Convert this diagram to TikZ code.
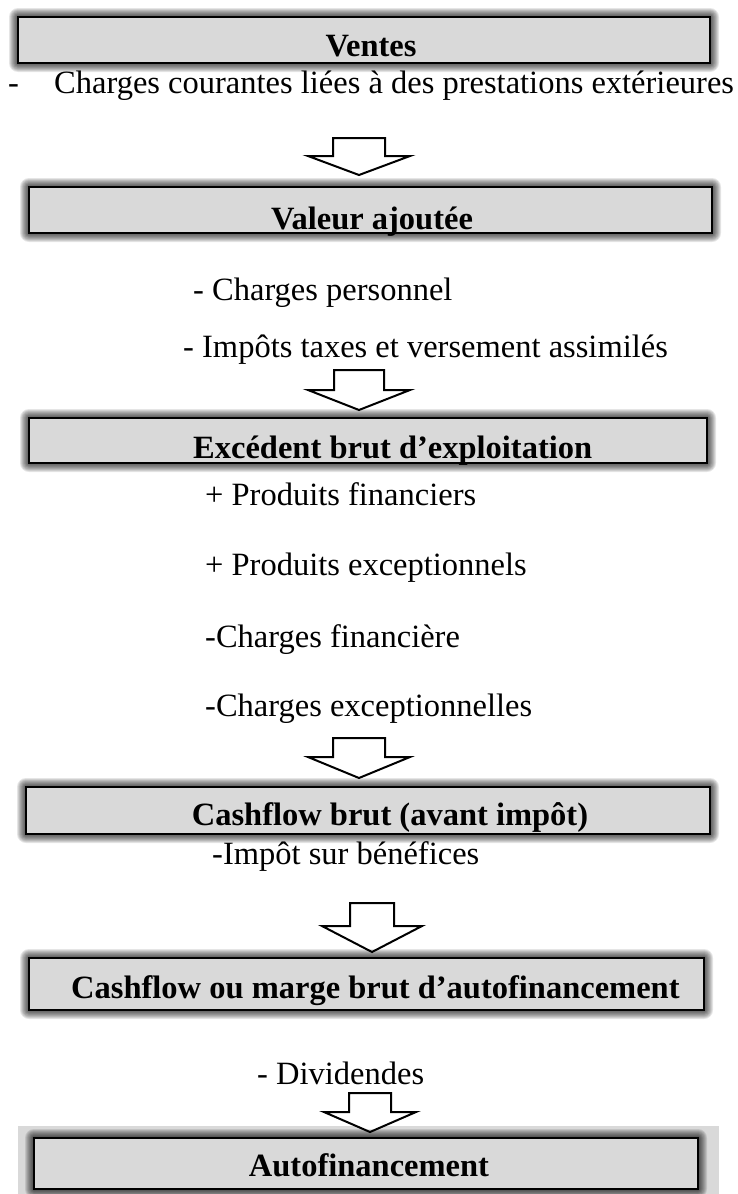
\documentclass[tikz,border=0pt]{standalone}
\usepackage{fontspec}
\setmainfont{Liberation Serif}
\definecolor{panel}{HTML}{D9D9D9}
\tikzset{
  stagebox/.style={draw=black, line width=2.5pt, fill=panel, inner sep=0pt, outer sep=0pt},
  stagetitle/.style={font=\fontsize{32.5}{38}\selectfont\bfseries, inner sep=0pt, anchor=base},
  item/.style={font=\fontsize{32.5}{38}\selectfont, inner sep=0pt, anchor=base west},
  flow/.style={draw=black, line width=2pt, fill=white, line join=miter},
}
% soft dark halo, then the grey panel itself
\newcommand\stage[5]{%
  \foreach \k in {9,8,...,1}{%
    \fill[black, opacity=0.1, rounded corners=\k pt] ({#2-\k},{#3-\k}) rectangle ({#4+\k},{#5+\k});}
  \node[stagebox, minimum width={#4-#2}, minimum height={#5-#3}] (#1) at ({(#2+#4)/2},{(#3+#5)/2}) {};
}
% hollow block arrow pointing down: centre, top, stem half width, wing half width, shoulder, tip
\newcommand\downflow[7]{%
  \coordinate (#1) at (#2,#7);
  \draw[flow] ({#2-#4},#3) -- ({#2+#4},#3) -- ({#2+#4},#6) -- ({#2+#5},#6) -- (#1)
    -- ({#2-#5},#6) -- ({#2-#4},#6) -- cycle;
}
\begin{document}
\begin{tikzpicture}[x=1pt, y=-1pt]
\useasboundingbox (0,0) rectangle (737,1194);

% backdrop behind the last panel
\fill[panel] (18,1126) rectangle (719,1194);

\stage{b1}{18}{17}{710}{63}
\node[stagetitle] (t1) at (371,56) {Ventes};
\node[item] (d1) at (8,93) {-};
\node[item] (i1) at (54,93) {Charges courantes liées à des prestations extérieures};
\downflow{a1}{359}{138}{26}{51}{156}{175}

\stage{b2}{29}{187}{712}{233}
\node[stagetitle] (t2) at (372,229) {Valeur ajoutée};
\node[item] (i2) at (193,300) {- Charges personnel};
\node[item] (i3) at (183,357) {- Impôts taxes et versement assimilés};
\downflow{a2}{359}{370}{25}{51}{390}{410}

\stage{b3}{29}{418}{707}{463}
\node[stagetitle, anchor=base west] (t3) at (193,458) {Excédent brut d’exploitation};
\node[item] (i4) at (205,505) {+ Produits financiers};
\node[item] (i5) at (205,575) {+ Produits exceptionnels};
\node[item] (i6) at (205,647) {-Charges financière};
\node[item] (i7) at (205,716) {-Charges exceptionnelles};
\downflow{a3}{359}{738}{26}{51}{757}{778}

\stage{b4}{26}{787}{710}{834}
\node[stagetitle] (t4) at (390,825) {Cashflow brut (avant impôt)};
\node[item] (i8) at (212,864) {-Impôt sur bénéfices};
\downflow{a4}{372}{903}{22}{50}{926}{952}

\stage{b5}{29}{958}{704}{1010}
\node[stagetitle, anchor=base west] (t5) at (71,998) {Cashflow ou marge brut d’autofinancement};
\node[item] (i9) at (257,1084) {- Dividendes};
\downflow{a5}{370}{1093}{21}{46}{1112}{1132}

\stage{b6}{34}{1138}{698}{1189}
\node[stagetitle] (t6) at (369,1176) {Autofinancement};
\end{tikzpicture}
\end{document}
